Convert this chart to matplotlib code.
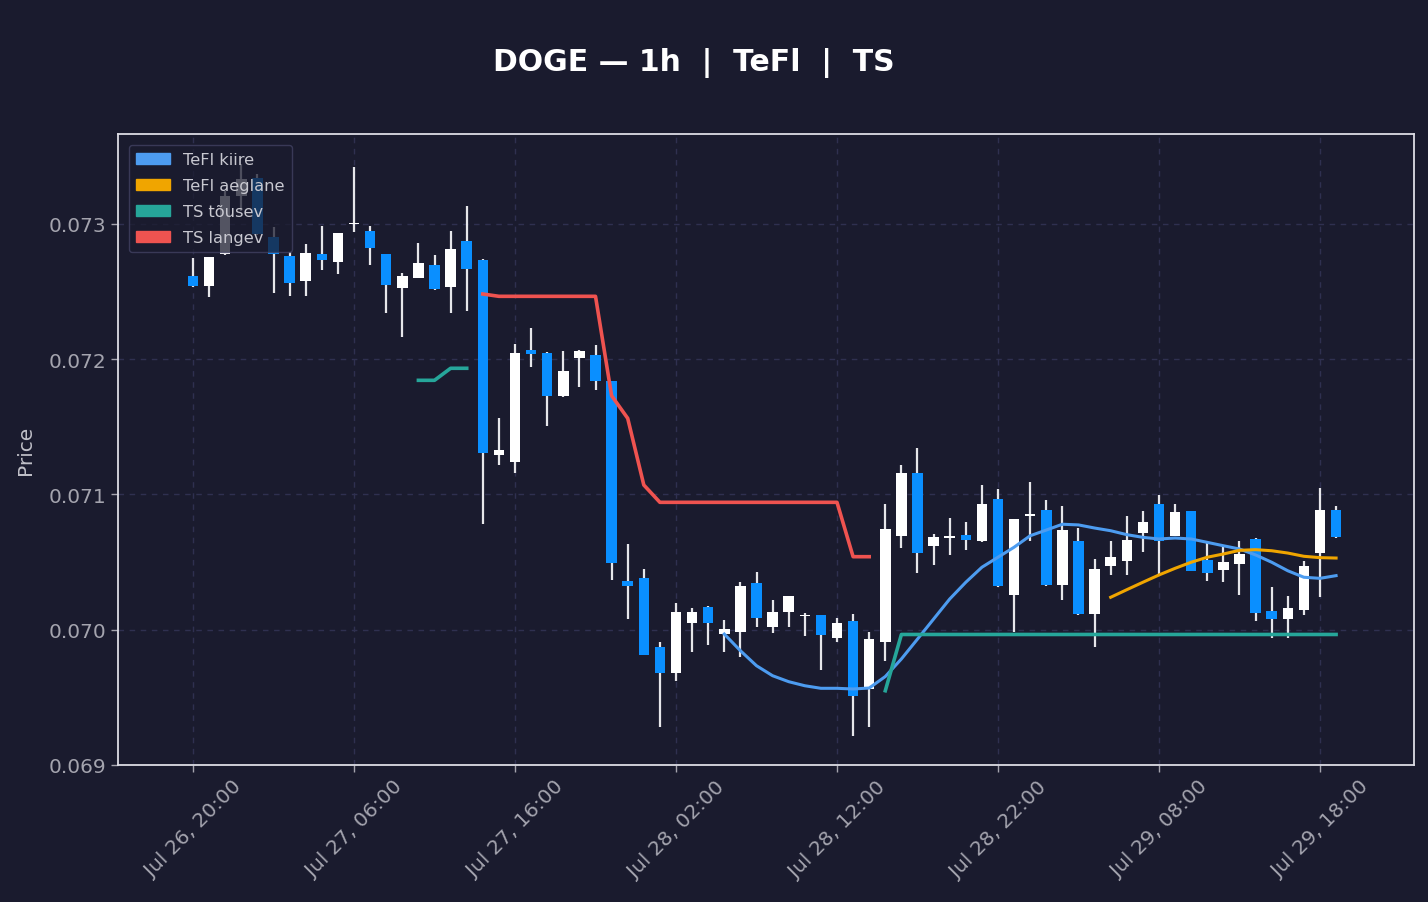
import numpy as np
import pandas as pd
import matplotlib
matplotlib.use("Agg")
import matplotlib.pyplot as plt
import matplotlib.dates as mdates
from matplotlib.patches import Patch

# Data (hourly candles, Jul 26 20:00 -> Jul 29 19:00)
times = pd.date_range("2024-07-26 20:00", periods=72, freq="h")

opens = [0.072613, 0.072544, 0.072778, 0.073207, 0.073340, 0.072902, 0.072761, 0.072581,
         0.072778, 0.072721, 0.072996, 0.072946, 0.072778, 0.072525, 0.072603, 0.072695,
         0.072536, 0.072872, 0.072732, 0.071294, 0.071238, 0.072066, 0.072046, 0.071726,
         0.072007, 0.072031, 0.071837, 0.070358, 0.070383, 0.069870, 0.069678, 0.070048,
         0.070166, 0.069966, 0.069981, 0.070343, 0.070018, 0.070133, 0.070098, 0.070109,
         0.069937, 0.070062, 0.069560, 0.069907, 0.070691, 0.071159, 0.070617, 0.070680,
         0.070698, 0.070658, 0.070964, 0.070255, 0.070841, 0.070885, 0.070329, 0.070654,
         0.070113, 0.070473, 0.070510, 0.070717, 0.070930, 0.070695, 0.070876, 0.070516,
         0.070444, 0.070486, 0.070671, 0.070136, 0.070082, 0.070148, 0.070565, 0.070885]
highs = [0.072749, 0.072756, 0.073246, 0.073444, 0.073370, 0.072976, 0.072793, 0.072852,
         0.072987, 0.072935, 0.073419, 0.072983, 0.072780, 0.072635, 0.072860, 0.072771,
         0.072948, 0.073135, 0.072741, 0.071566, 0.072113, 0.072231, 0.072050, 0.072061,
         0.072068, 0.072108, 0.071840, 0.070634, 0.070449, 0.069907, 0.070198, 0.070161,
         0.070173, 0.070072, 0.070351, 0.070425, 0.070220, 0.070250, 0.070124, 0.070112,
         0.070087, 0.070116, 0.069981, 0.070930, 0.071220, 0.071344, 0.070708, 0.070826,
         0.070794, 0.071070, 0.071041, 0.070822, 0.071095, 0.070959, 0.070915, 0.070754,
         0.070523, 0.070654, 0.070839, 0.070876, 0.070996, 0.070930, 0.070880, 0.070639,
         0.070614, 0.070658, 0.070675, 0.070318, 0.070252, 0.070506, 0.071048, 0.070917]
lows = [0.072535, 0.072462, 0.072770, 0.073096, 0.072920, 0.072490, 0.072470, 0.072470,
        0.072662, 0.072630, 0.072943, 0.072699, 0.072342, 0.072167, 0.072600, 0.072515,
        0.072344, 0.072359, 0.070784, 0.071220, 0.071161, 0.071945, 0.071509, 0.071722,
        0.071797, 0.071775, 0.070370, 0.070079, 0.069812, 0.069279, 0.069623, 0.069838,
        0.069889, 0.069833, 0.069796, 0.070022, 0.069974, 0.070022, 0.069951, 0.069704,
        0.069907, 0.069212, 0.069283, 0.069771, 0.070604, 0.070419, 0.070481, 0.070555,
        0.070592, 0.070647, 0.070318, 0.069981, 0.070658, 0.070326, 0.070220, 0.070110,
        0.069876, 0.070405, 0.070405, 0.070577, 0.070405, 0.070690, 0.070432, 0.070363,
        0.070351, 0.070259, 0.070067, 0.069937, 0.069937, 0.070111, 0.070244, 0.070678]
closes = [0.072539, 0.072754, 0.073205, 0.073333, 0.072926, 0.072778, 0.072562, 0.072786,
          0.072736, 0.072933, 0.073004, 0.072820, 0.072551, 0.072613, 0.072712, 0.072517,
          0.072813, 0.072665, 0.071305, 0.071327, 0.072046, 0.072037, 0.071726, 0.071911,
          0.072059, 0.071841, 0.070491, 0.070327, 0.069815, 0.069678, 0.070129, 0.070129,
          0.070048, 0.070003, 0.070321, 0.070085, 0.070129, 0.070247, 0.070109, 0.069959,
          0.070048, 0.069508, 0.069931, 0.070745, 0.071159, 0.070565, 0.070683, 0.070688,
          0.070661, 0.070927, 0.070321, 0.070819, 0.070848, 0.070329, 0.070737, 0.070114,
          0.070449, 0.070536, 0.070663, 0.070797, 0.070654, 0.070868, 0.070436, 0.070417,
          0.070499, 0.070560, 0.070122, 0.070082, 0.070158, 0.070469, 0.070885, 0.070688]

nan = np.nan
# TeFl kiire (fast), starts at candle 33
tefl_fast = [nan] * 33 + [
    0.069968, 0.069845, 0.069734, 0.069660, 0.069616, 0.069586, 0.069567, 0.069567,
    0.069562, 0.069569, 0.069654, 0.069784, 0.069931, 0.070079, 0.070227, 0.070351,
    0.070462, 0.070536, 0.070610, 0.070695, 0.070737, 0.070780, 0.070775, 0.070752,
    0.070732, 0.070703, 0.070683, 0.070671, 0.070678, 0.070671, 0.070646, 0.070621,
    0.070597, 0.070553, 0.070499, 0.070436, 0.070388, 0.070380, 0.070400]
# TeFl aeglane (slow), starts at candle 57
tefl_slow = [nan] * 57 + [
    0.070240, 0.070296, 0.070351, 0.070405, 0.070454, 0.070499, 0.070536, 0.070560,
    0.070587, 0.070592, 0.070584, 0.070567, 0.070543, 0.070533, 0.070530]
# TS tõusev (up trend stop)
ts_up = [nan] * 14 + [0.071844, 0.071844, 0.071933, 0.071933] + [nan] * 25 + \
        [0.069549] + [0.069965] * 28
# TS langev (down trend stop)
ts_down = [nan] * 18 + [0.072482] + [0.072465] * 7 + [0.071730, 0.071563, 0.071070] + \
          [0.070942] * 12 + [0.070540, 0.070540] + [nan] * 29

# Style
bg = "#1a1b2e"
up_col = "#ffffff"
down_col = "#0a8fff"
c_fast = "#4d9cf0"
c_slow = "#f0a500"
c_up = "#26a69a"
c_down = "#ef5350"

fig = plt.figure(figsize=(14.28, 9.03), dpi=100, facecolor=bg)
ax = fig.add_axes([118 / 1428, 1 - 766 / 903, (1414 - 118) / 1428, (766 - 135) / 903])
ax.set_facecolor(bg)

x = mdates.date2num(times)
o = np.array(opens)
h = np.array(highs)
l = np.array(lows)
c = np.array(closes)
is_up = c >= o
colors = np.where(is_up, up_col, down_col)
w = 0.65 / 24

ax.vlines(x, l, h, color="#e6e6ea", linewidth=1.6, zorder=2)
body = np.maximum(np.abs(c - o), 0.000012)
bottom = np.minimum(o, c)
ax.bar(x, body, bottom=bottom, width=w, color=colors, zorder=3)

ax.plot(x, tefl_fast, color=c_fast, lw=2.2, zorder=4)
ax.plot(x, tefl_slow, color=c_slow, lw=2.2, zorder=4)
ax.plot(x, ts_up, color=c_up, lw=2.6, zorder=4)
ax.plot(x, ts_down, color=c_down, lw=2.6, zorder=4)

# Axes
hour = 1 / 24
ax.set_xlim(x[0] - 4.66 * hour, x[-1] + 4.84 * hour)
ax.set_ylim(0.069, 0.073665)
ax.set_yticks([0.069, 0.070, 0.071, 0.072, 0.073])
ax.yaxis.set_major_formatter(plt.FormatStrFormatter("%.3f"))
ax.set_xticks(x[::10])
ax.xaxis.set_major_formatter(mdates.DateFormatter("%b %d, %H:%M"))
plt.setp(ax.get_xticklabels(), rotation=45, ha="center")

ax.tick_params(colors="#a4a4ae", labelsize=14.5, length=5, width=1)
for s in ax.spines.values():
    s.set_color("#dcdce4")
    s.set_linewidth(1.3)
ax.grid(True, linestyle=(0, (4, 4)), color="#2f3050", linewidth=1)
ax.set_axisbelow(True)
ax.set_ylabel("Price", color="#c0c0c8", fontsize=14.5, labelpad=10)

handles = [Patch(color=c_fast, label="TeFl kiire"),
           Patch(color=c_slow, label="TeFl aeglane"),
           Patch(color=c_up, label="TS tõusev"),
           Patch(color=c_down, label="TS langev")]
leg = ax.legend(handles=handles, loc="upper left", fontsize=11.7, facecolor=bg,
                edgecolor="#444466", framealpha=0.75, labelcolor="#c8c8d0",
                borderaxespad=0.65, labelspacing=0.68, handlelength=2.1,
                borderpad=0.45, fancybox=True)
leg.set_zorder(10)

fig.text(694 / 1428, 1 - 63 / 903, "DOGE — 1h  |  TeFl  |  TS", ha="center", va="center",
         color="white", fontsize=21.5, fontweight="bold")

fig.savefig("out.png", dpi=100, facecolor=bg)
